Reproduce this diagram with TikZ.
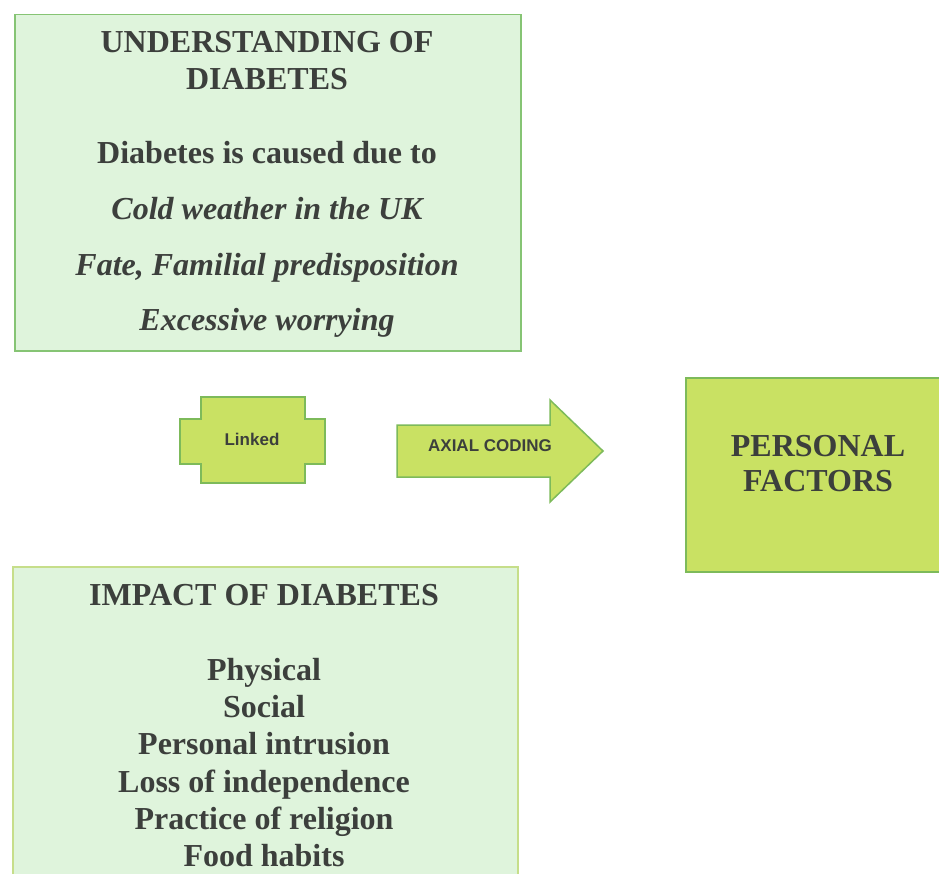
\documentclass[tikz,border=0pt]{standalone}
\usepackage{fontspec}
\setmainfont{Liberation Serif}
\newfontfamily\arialf{Liberation Sans}
\definecolor{mintfill}{HTML}{DFF4DC}
\definecolor{mintline}{HTML}{86C474}
\definecolor{limefill}{HTML}{C9E163}
\definecolor{limeline}{HTML}{7DBA5A}
\definecolor{txt}{HTML}{3C3F3C}
\definecolor{botline}{HTML}{C6DE8A}
\tikzset{
  mintbox/.style={draw=mintline, line width=1.5pt, fill=mintfill},
  limebox/.style={draw=limeline, line width=1.5pt, fill=limefill},
  bigtxt/.style={text=txt, font=\fontsize{32}{34}\selectfont\bfseries, inner sep=0pt, anchor=base},
  ittxt/.style={text=txt, font=\fontsize{32}{34}\selectfont\bfseries\itshape, inner sep=0pt, anchor=base},
  smalltxt/.style={text=txt, font=\arialf\fontsize{17}{19}\selectfont\bfseries, inner sep=0pt, anchor=base}
}
\begin{document}
\begin{tikzpicture}[x=1pt,y=-1pt]
\useasboundingbox (0,0) rectangle (939,874);
\clip (0,0) rectangle (939,874);
\fill[white] (0,0) rectangle (939,874);
% top box
\node[mintbox, minimum width=506pt, minimum height=336pt, inner sep=0pt, anchor=north west] (under) at (14,14) {};
\node[bigtxt] (t1) at (267,53) {UNDERSTANDING OF};
\node[bigtxt] (t2) at (267,90) {DIABETES};
\node[bigtxt] (t3) at (267,164) {Diabetes is caused due to};
\node[ittxt] (t4) at (267,219.5) {Cold weather in the UK};
\node[ittxt] (t5) at (267,275.5) {Fate, Familial predisposition};
\node[ittxt] (t6) at (267,330.5) {Excessive worrying};
% linked cross
\draw[limebox] (201,397) -- (305,397) -- (305,419) -- (325,419) -- (325,464) -- (305,464) -- (305,483) -- (201,483) -- (201,464) -- (180,464) -- (180,419) -- (201,419) -- cycle;
\node[smalltxt] (linked) at (252,445) {Linked};
% arrow
\draw[limebox] (397,425) -- (550,425) -- (550,400) -- (603,451) -- (550,502) -- (550,477) -- (397,477) -- cycle;
\node[smalltxt] (axial) at (490,451) {AXIAL CODING};
% personal factors
\node[limebox, minimum width=262pt, minimum height=194pt, inner sep=0pt, anchor=north west] (pf) at (685,377) {};
\node[bigtxt] (p1) at (818,456.5) {PERSONAL};
\node[bigtxt] (p2) at (818,491.5) {FACTORS};
% bottom box
\node[draw=botline, line width=1.5pt, fill=mintfill, minimum width=505pt, minimum height=330pt, inner sep=0pt, anchor=north west] (impact) at (12,566) {};
\node[bigtxt] (i0) at (264,605) {IMPACT OF DIABETES};
\node[bigtxt] (i1) at (264,680) {Physical};
\node[bigtxt] (i2) at (264,717) {Social};
\node[bigtxt] (i3) at (264,754.5) {Personal intrusion};
\node[bigtxt] (i4) at (264,792) {Loss of independence};
\node[bigtxt] (i5) at (264,829.5) {Practice of religion};
\node[bigtxt] (i6) at (264,866.5) {Food habits};
\end{tikzpicture}
\end{document}
